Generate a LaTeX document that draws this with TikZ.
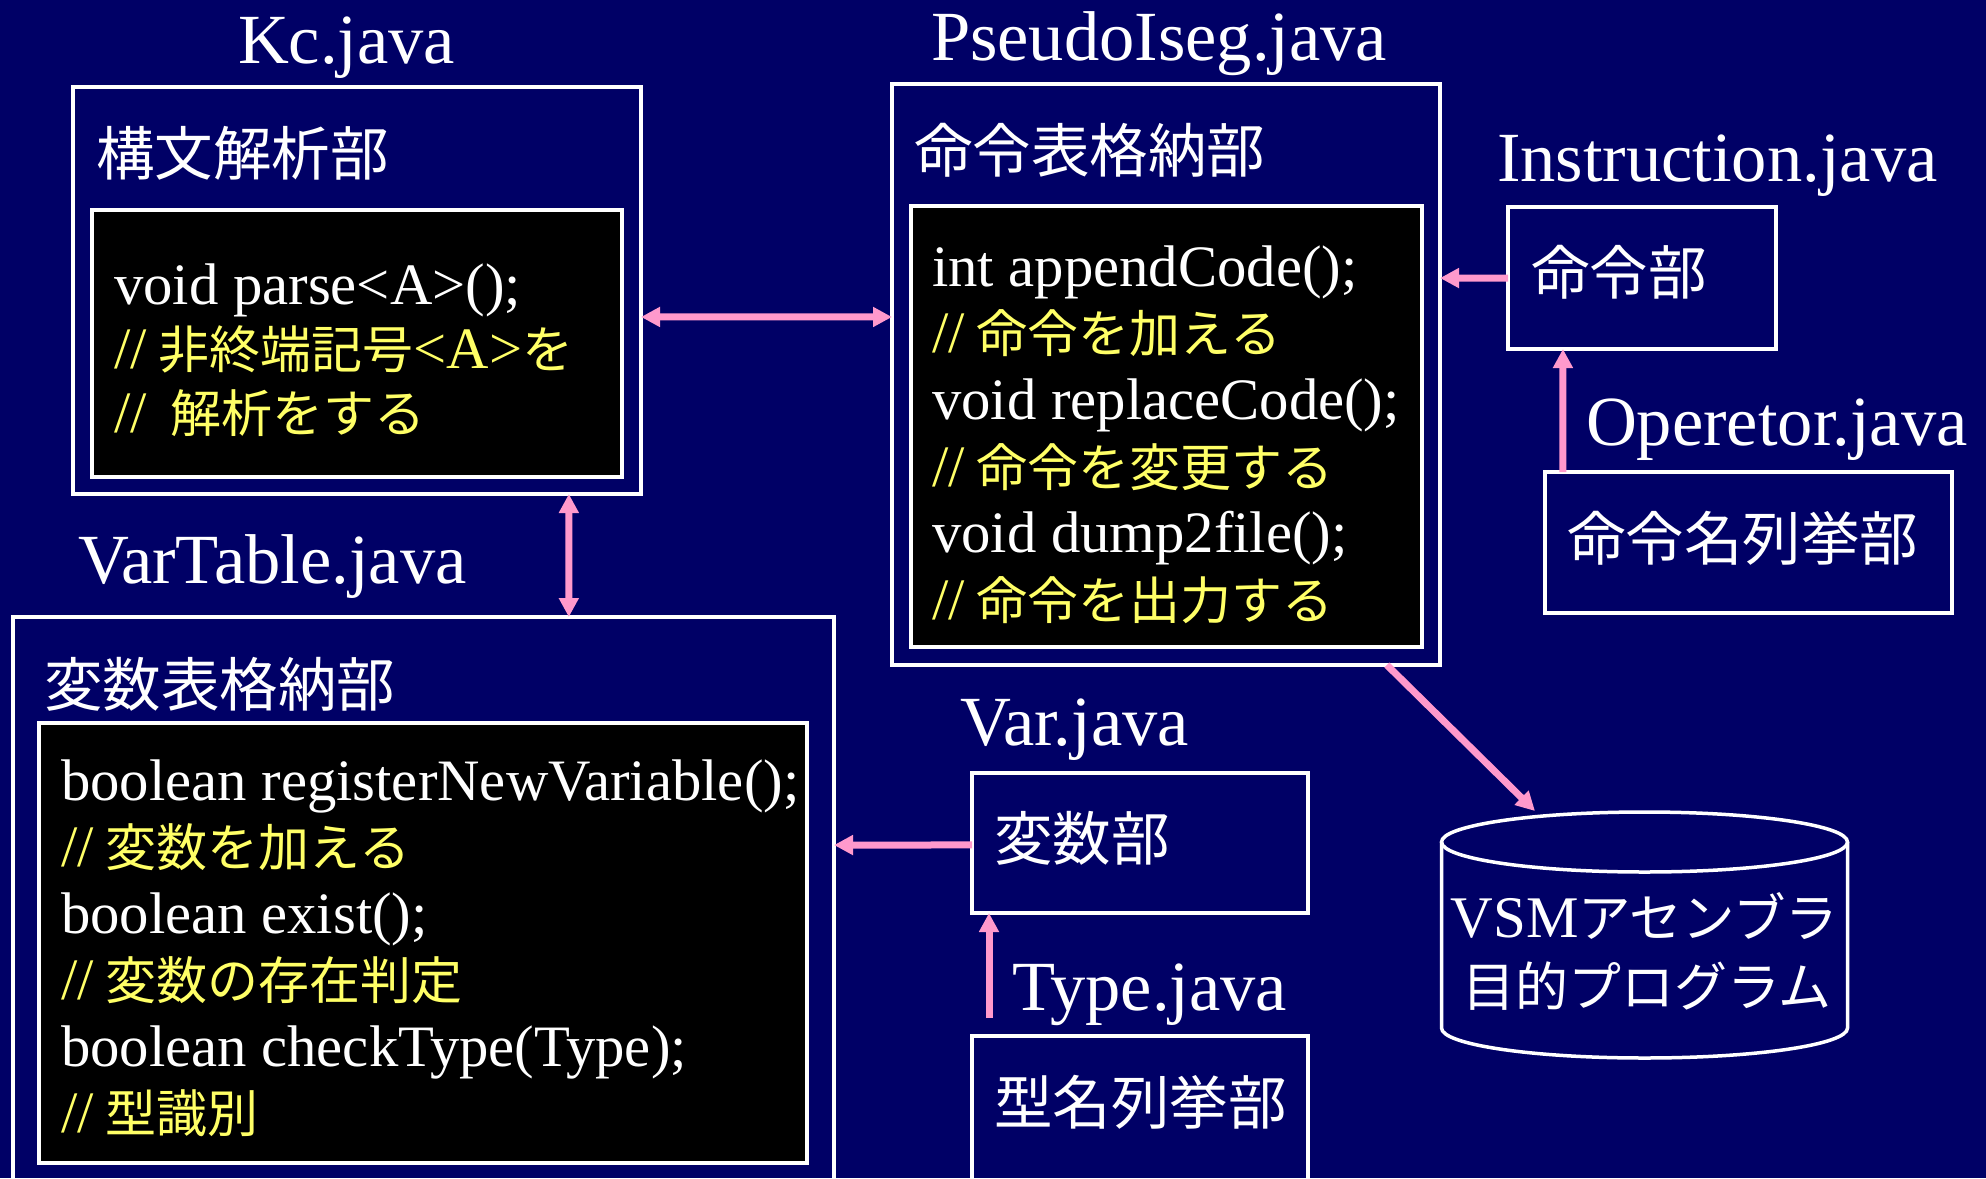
\documentclass[tikz,border=0pt]{standalone}
\usepackage{fontspec}
\setmainfont{Liberation Serif}
\newfontfamily\jp{Noto Sans CJK JP}
\usetikzlibrary{arrows.meta,calc}
\definecolor{navy}{RGB}{0,0,102}
\definecolor{linkpink}{RGB}{255,153,204}
\definecolor{notey}{RGB}{255,255,102}
\newcommand\JNote[1]{{\jp\fontsize{51}{60}\selectfont #1}}
\newcommand\JDb[1]{{\jp\fontsize{52.5}{60}\selectfont #1}}
\newcommand\Cmt{//\hspace{12pt}}

\begin{document}
\begin{tikzpicture}[x=1pt,y=-1pt,
  frame/.style={draw=white,line width=3.5pt,inner sep=0pt,outer sep=0pt},
  codepane/.style={frame,fill=black},
  plain/.style={text=white,inner sep=0pt,outer sep=0pt,anchor=base west},
  filename/.style={plain,font=\fontsize{70.5}{80}\selectfont},
  partname/.style={plain,font=\jp\fontsize{58.5}{66}\selectfont},
  codeline/.style={plain,font=\fontsize{58.7}{66}\selectfont},
  noteline/.style={codeline,text=notey},
  link/.style={draw=linkpink,line width=7pt,-{Triangle[length=19pt,width=19pt]}},
  biglink/.style={draw=linkpink,line width=7pt,{Triangle[length=19pt,width=19pt]}-{Triangle[length=19pt,width=19pt]}},
]
\useasboundingbox (0,0) rectangle (1986,1178);
\fill[navy] (0,0) rectangle (1986,1178);
\clip (0,0) rectangle (1986,1178);

% ---- parser: Kc.java
\node[filename] (kcname) at (238,63) {Kc.java};
\node[frame,minimum width=568pt,minimum height=407pt] (kcout) at (357,290.5) {};
\node[partname] (kcpart) at (96,175) {構文解析部};
\node[codepane,minimum width=530pt,minimum height=267pt] (kcin) at (357,343.5) {};
\node[codeline] (kc1) at (114,304) {void parse<A>();};
\node[noteline] (kc2) at (114,368) {\Cmt\JNote{非終端記号}<A>\JNote{を}};
\node[noteline] (kc3) at (114,432) {//\hspace{24pt}\JNote{解析をする}};

% ---- instruction table: PseudoIseg.java
\node[filename] (psname) at (931,60) {PseudoIseg.java};
\node[frame,minimum width=548pt,minimum height=581pt] (psout) at (1166,374.5) {};
\node[partname] (pspart) at (914,172) {命令表格納部};
\node[codepane,minimum width=511pt,minimum height=441pt] (psin) at (1166.5,426.5) {};
\node[codeline] (ps1) at (932,286) {int appendCode();};
\node[noteline] (ps2) at (932,352) {\Cmt\JNote{命令を加える}};
\node[codeline] (ps3) at (932,419) {void replaceCode();};
\node[noteline] (ps4) at (932,486) {\Cmt\JNote{命令を変更する}};
\node[codeline] (ps5) at (932,552) {void dump2file();};
\node[noteline] (ps6) at (932,619) {\Cmt\JNote{命令を出力する}};

% ---- Instruction.java / Operetor.java
\node[filename] (insname) at (1497,181) {Instruction.java};
\node[frame,minimum width=268pt,minimum height=142pt] (insbox) at (1642,278) {};
\node[partname] (inspart) at (1531,294) {命令部};
\node[filename] (opname) at (1586,445) {Operetor.java};
\node[frame,minimum width=407pt,minimum height=141pt] (opbox) at (1748.5,542.5) {};
\node[partname] (oppart) at (1567,560) {命令名列挙部};

% ---- variable table: VarTable.java
\node[filename] (vtname) at (78,583) {VarTable.java};
\node[frame,minimum width=821pt,minimum height=573pt] (vtout) at (423.5,903.5) {};
\node[partname] (vtpart) at (44,706) {変数表格納部};
\node[codepane,minimum width=768pt,minimum height=440pt] (vtin) at (423,943) {};
\node[codeline] (vt1) at (61,800) {boolean registerNewVariable();};
\node[noteline] (vt2) at (61,866) {\Cmt\JNote{変数を加える}};
\node[codeline] (vt3) at (61,933) {boolean exist();};
\node[noteline] (vt4) at (61,999) {\Cmt\JNote{変数の存在判定}};
\node[codeline] (vt5) at (61,1066) {boolean checkType(Type);};
\node[noteline] (vt6) at (61,1132) {\Cmt\JNote{型識別}};

% ---- Var.java / Type.java
\node[filename] (varname) at (960,745) {Var.java};
\node[frame,minimum width=336pt,minimum height=140pt] (varbox) at (1140,843) {};
\node[partname] (varpart) at (994,860) {変数部};
\node[filename] (tyname) at (1012,1010) {Type.java};
\node[frame,minimum width=336pt,minimum height=154pt] (typebox) at (1140,1113) {};
\node[partname] (typart) at (994,1124) {型名列挙部};

% ---- output program (cylinder)
\draw[white,line width=3.5pt] (1441.5,842) -- (1441.5,1028)
  arc[start angle=180,end angle=0,x radius=203,y radius=30] -- (1847.5,842);
\draw[white,line width=3.5pt] (1644.5,842) ellipse[x radius=203,y radius=30];
\coordinate (dbtop) at (1535,811);
\node[plain,anchor=base,font=\fontsize{59}{66}\selectfont] (db1) at (1644.5,937) {VSM\JDb{アセンブラ}};
\node[plain,anchor=base,font=\jp\fontsize{53}{60}\selectfont] (db2) at (1647,1006) {目的プログラム};

% ---- connectors
\draw[biglink] ($(kcout.north east)!0.565!(kcout.south east)$) -- ($(psout.north west)!0.401!(psout.south west)$);
\draw[biglink] ($(kcout.south west)!0.873!(kcout.south east)$) -- ($(vtout.north west)!0.677!(vtout.north east)$);
\draw[link] (insbox.west) -- ($(psout.north east)!0.334!(psout.south east)$);
\draw[link] ($(opbox.north west)!0.044!(opbox.north east)$) -- ($(insbox.south west)!0.205!(insbox.south east)$);
\draw[link] ($(varbox.north west)!0.514!(varbox.south west)$) -- ($(vtout.north east)!0.398!(vtout.south east)$);
\draw[link,shorten <=18pt] ($(typebox.north west)!0.0506!(typebox.north east)$) -- ($(varbox.south west)!0.0506!(varbox.south east)$);
\draw[link] ($(psout.south west)!0.903!(psout.south east)$) -- (dbtop);
\end{tikzpicture}
\end{document}
